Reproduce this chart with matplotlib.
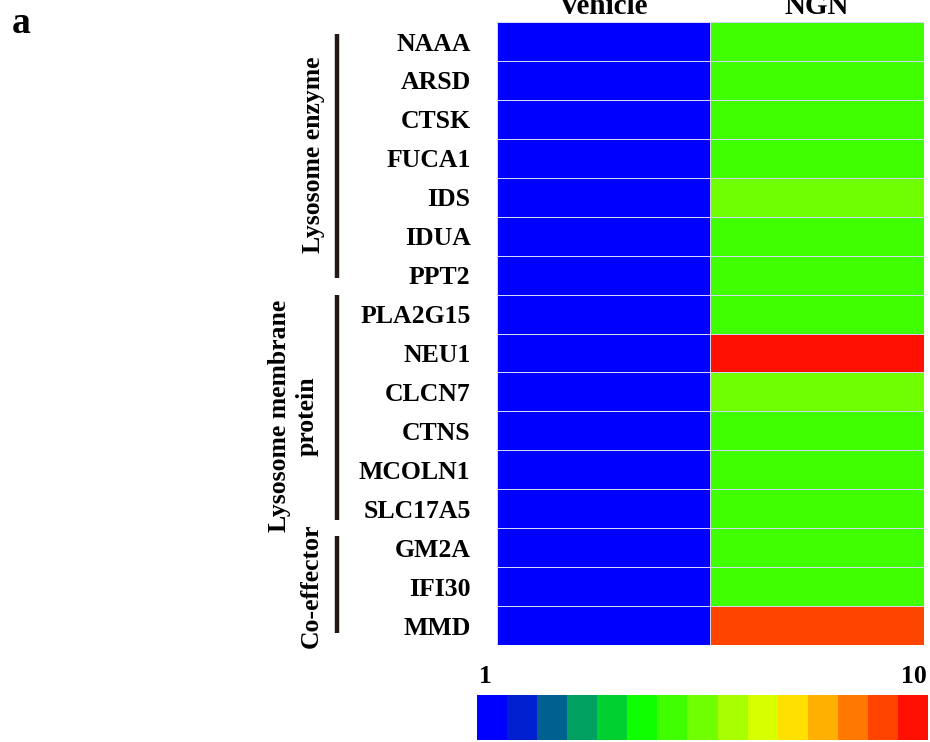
import matplotlib.pyplot as plt
import numpy as np
from matplotlib.colors import ListedColormap, BoundaryNorm
from matplotlib.transforms import blended_transform_factory
import matplotlib as mpl

plt.rcParams['font.family'] = ['Liberation Serif', 'DejaVu Serif']
plt.rcParams['font.weight'] = 'bold'

genes = ['NAAA', 'ARSD', 'CTSK', 'FUCA1', 'IDS', 'IDUA', 'PPT2',
         'PLA2G15', 'NEU1', 'CLCN7', 'CTNS', 'MCOLN1', 'SLC17A5',
         'GM2A', 'IFI30', 'MMD']
groups = ['Vehicle', 'NGN']

vehicle = [1.0] * 16
ngn = [4.9, 4.9, 4.9, 4.9, 5.5, 4.9, 4.9,
       4.9, 9.8, 5.5, 4.9, 4.9, 4.9,
       4.9, 4.9, 9.1]

# group name, first row, last row
categories = [('Lysosome enzyme', 0, 6),
              ('Lysosome membrane\nprotein', 7, 12),
              ('Co-effector', 13, 15)]

# 15-step scale from 1 to 10
scale_colors = ['#0000FF', '#0020D0', '#006090', '#00A060', '#00D030',
                '#10FF00', '#40FF00', '#70FF00', '#A8FF00', '#D8FF00',
                '#FFE000', '#FFB000', '#FF7800', '#FF4400', '#FF1000']
cmap = ListedColormap(scale_colors)
norm = BoundaryNorm(np.linspace(1, 10, 16), cmap.N)

data = np.column_stack([vehicle, ngn])

fig = plt.figure(figsize=(9.30, 7.42), dpi=100)
ax = fig.add_axes([0.5344, 0.1307, 0.4591, 0.8396])

ax.pcolormesh(data, cmap=cmap, norm=norm, edgecolor='#d4d4f4', linewidth=0.5)
ax.set_xlim(0, 2)
ax.set_ylim(len(genes), 0)
ax.set_xticks([])
ax.set_yticks(np.arange(len(genes)) + 0.5)
ax.set_yticklabels(genes, fontsize=18.5, fontweight='bold')
ax.tick_params(axis='y', length=0, pad=19)
for s in ax.spines.values():
    s.set_visible(False)

# column headers
for i, g in enumerate(groups):
    fig.text((603 + i * 214) / 930, 0.981, g, ha='center', va='baseline',
             fontsize=21, fontweight='bold')

# category bars and labels at the left
trans = blended_transform_factory(fig.transFigure, ax.transData)
bar_x = 337 / 930
bar_trim = [(0.3, 0.43), (0.02, 0.2), (0.2, 0.3)]
label_pos = [(313, 155), (293, 416), (311, 586)]
for (name, r0, r1), (t0, t1), (lx, ly) in zip(categories, bar_trim, label_pos):
    ax.plot([bar_x, bar_x], [r0 + t0, r1 + 1 - t1], color='#231815', lw=3.2,
            transform=trans, clip_on=False, solid_capstyle='butt')
    fig.text(lx / 930, 1 - ly / 742, name, rotation=90, ha='center',
             va='center', fontsize=18.5, fontweight='bold',
             multialignment='center', linespacing=1.25)

# colour scale
cax = fig.add_axes([477 / 930, 0.0027, 451 / 930, 45 / 742])
cb = mpl.colorbar.ColorbarBase(cax, cmap=cmap, norm=norm,
                               orientation='horizontal')
cb.set_ticks([])
cb.minorticks_off()
cax.tick_params(which='both', length=0, labelbottom=False)
cb.outline.set_visible(False)
fig.text(485 / 930, 1 - 683 / 742, '1', ha='center', va='baseline',
         fontsize=18.5, fontweight='bold')
fig.text(927 / 930, 1 - 683 / 742, '10', ha='right', va='baseline',
         fontsize=18.5, fontweight='bold')

fig.text(12 / 930, 1 - 33 / 742, 'a', ha='left', va='baseline',
         fontsize=27, fontweight='bold')

plt.savefig('out.png', dpi=100)
